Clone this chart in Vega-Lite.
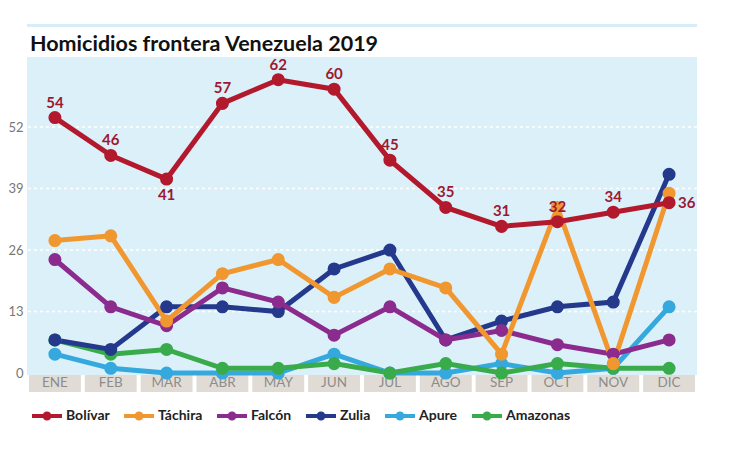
{
  "$schema": "https://vega.github.io/schema/vega-lite/v6.json",
  "width": 670,
  "height": 335,
  "autosize": {"type": "none"},
  "padding": {"left": 27, "top": 57, "right": 53, "bottom": 65},
  "background": "white",
  "config": {"view": {"stroke": null}, "font": "Lato"},
  "title": {"text": "Homicidios frontera Venezuela 2019", "anchor": "start", "frame": "group", "fontSize": 21.5, "fontWeight": "bold", "color": "#111111", "font": "Lato", "offset": -31, "dx": 3},
  "datasets": {
    "series": [
      {"month": "ENE", "region": "Apure", "value": 4},
      {"month": "FEB", "region": "Apure", "value": 1},
      {"month": "MAR", "region": "Apure", "value": 0},
      {"month": "ABR", "region": "Apure", "value": 0},
      {"month": "MAY", "region": "Apure", "value": 0},
      {"month": "JUN", "region": "Apure", "value": 4},
      {"month": "JUL", "region": "Apure", "value": 0},
      {"month": "AGO", "region": "Apure", "value": 0},
      {"month": "SEP", "region": "Apure", "value": 2},
      {"month": "OCT", "region": "Apure", "value": 0},
      {"month": "NOV", "region": "Apure", "value": 1},
      {"month": "DIC", "region": "Apure", "value": 14},
      {"month": "ENE", "region": "Amazonas", "value": 7},
      {"month": "FEB", "region": "Amazonas", "value": 4},
      {"month": "MAR", "region": "Amazonas", "value": 5},
      {"month": "ABR", "region": "Amazonas", "value": 1},
      {"month": "MAY", "region": "Amazonas", "value": 1},
      {"month": "JUN", "region": "Amazonas", "value": 2},
      {"month": "JUL", "region": "Amazonas", "value": 0},
      {"month": "AGO", "region": "Amazonas", "value": 2},
      {"month": "SEP", "region": "Amazonas", "value": 0},
      {"month": "OCT", "region": "Amazonas", "value": 2},
      {"month": "NOV", "region": "Amazonas", "value": 1},
      {"month": "DIC", "region": "Amazonas", "value": 1},
      {"month": "ENE", "region": "Zulia", "value": 7},
      {"month": "FEB", "region": "Zulia", "value": 5},
      {"month": "MAR", "region": "Zulia", "value": 14},
      {"month": "ABR", "region": "Zulia", "value": 14},
      {"month": "MAY", "region": "Zulia", "value": 13},
      {"month": "JUN", "region": "Zulia", "value": 22},
      {"month": "JUL", "region": "Zulia", "value": 26},
      {"month": "AGO", "region": "Zulia", "value": 7},
      {"month": "SEP", "region": "Zulia", "value": 11},
      {"month": "OCT", "region": "Zulia", "value": 14},
      {"month": "NOV", "region": "Zulia", "value": 15},
      {"month": "DIC", "region": "Zulia", "value": 42},
      {"month": "ENE", "region": "Falcón", "value": 24},
      {"month": "FEB", "region": "Falcón", "value": 14},
      {"month": "MAR", "region": "Falcón", "value": 10},
      {"month": "ABR", "region": "Falcón", "value": 18},
      {"month": "MAY", "region": "Falcón", "value": 15},
      {"month": "JUN", "region": "Falcón", "value": 8},
      {"month": "JUL", "region": "Falcón", "value": 14},
      {"month": "AGO", "region": "Falcón", "value": 7},
      {"month": "SEP", "region": "Falcón", "value": 9},
      {"month": "OCT", "region": "Falcón", "value": 6},
      {"month": "NOV", "region": "Falcón", "value": 4},
      {"month": "DIC", "region": "Falcón", "value": 7},
      {"month": "ENE", "region": "Táchira", "value": 28},
      {"month": "FEB", "region": "Táchira", "value": 29},
      {"month": "MAR", "region": "Táchira", "value": 11},
      {"month": "ABR", "region": "Táchira", "value": 21},
      {"month": "MAY", "region": "Táchira", "value": 24},
      {"month": "JUN", "region": "Táchira", "value": 16},
      {"month": "JUL", "region": "Táchira", "value": 22},
      {"month": "AGO", "region": "Táchira", "value": 18},
      {"month": "SEP", "region": "Táchira", "value": 4},
      {"month": "OCT", "region": "Táchira", "value": 35},
      {"month": "NOV", "region": "Táchira", "value": 2},
      {"month": "DIC", "region": "Táchira", "value": 38},
      {"month": "ENE", "region": "Bolívar", "value": 54},
      {"month": "FEB", "region": "Bolívar", "value": 46},
      {"month": "MAR", "region": "Bolívar", "value": 41},
      {"month": "ABR", "region": "Bolívar", "value": 57},
      {"month": "MAY", "region": "Bolívar", "value": 62},
      {"month": "JUN", "region": "Bolívar", "value": 60},
      {"month": "JUL", "region": "Bolívar", "value": 45},
      {"month": "AGO", "region": "Bolívar", "value": 35},
      {"month": "SEP", "region": "Bolívar", "value": 31},
      {"month": "OCT", "region": "Bolívar", "value": 32},
      {"month": "NOV", "region": "Bolívar", "value": 34},
      {"month": "DIC", "region": "Bolívar", "value": 36}
    ],
    "months": [
      {"month": "ENE"}, {"month": "FEB"}, {"month": "MAR"}, {"month": "ABR"},
      {"month": "MAY"}, {"month": "JUN"}, {"month": "JUL"}, {"month": "AGO"},
      {"month": "SEP"}, {"month": "OCT"}, {"month": "NOV"}, {"month": "DIC"}
    ],
    "grid": [{"v": 13}, {"v": 26}, {"v": 39}, {"v": 52}]
  },
  "layer": [
    {
      "data": {"values": [{"top": 73.45}]},
      "mark": {"type": "rule", "color": "#d8edf8", "strokeWidth": 3},
      "encoding": {
        "y": {"field": "top", "type": "quantitative", "scale": {"domain": [-4, 66.8], "nice": false, "zero": false}, "axis": {"title": null, "values": [0, 13, 26, 39, 52], "grid": false, "domain": false, "ticks": false, "labelPadding": 4, "labelFontSize": 13, "labelColor": "#777777", "labelFont": "Lato"}}
      }
    },
    {
      "data": {"values": [{"lo": -0.4, "hi": 66.8}]},
      "mark": {"type": "rect", "color": "#dcf0fa"},
      "encoding": {
        "y": {"field": "lo", "type": "quantitative", "scale": {"domain": [-4, 66.8], "nice": false, "zero": false}, "axis": {"title": null, "values": [0, 13, 26, 39, 52], "grid": false, "domain": false, "ticks": false, "labelPadding": 4, "labelFontSize": 13, "labelColor": "#777777", "labelFont": "Lato"}},
        "y2": {"field": "hi"}
      }
    },
    {
      "data": {"name": "grid"},
      "mark": {"type": "rule", "color": "white", "strokeWidth": 1.5, "strokeDash": [3, 3]},
      "encoding": {
        "y": {"field": "v", "type": "quantitative", "scale": {"domain": [-4, 66.8], "nice": false, "zero": false}, "axis": {"title": null, "values": [0, 13, 26, 39, 52], "grid": false, "domain": false, "ticks": false, "labelPadding": 4, "labelFontSize": 13, "labelColor": "#777777", "labelFont": "Lato"}}
      }
    },
    {
      "data": {"name": "months"},
      "mark": {"type": "rect", "color": "#e0dcd5"},
      "encoding": {
        "x": {"field": "month", "type": "nominal", "sort": null, "scale": {"domain": ["ENE","FEB","MAR","ABR","MAY","JUN","JUL","AGO","SEP","OCT","NOV","DIC"], "paddingInner": 0.07, "paddingOuter": 0.035}, "axis": null},
        "y": {"datum": -4, "type": "quantitative", "scale": {"domain": [-4, 66.8], "nice": false, "zero": false}, "axis": {"title": null, "values": [0, 13, 26, 39, 52], "grid": false, "domain": false, "ticks": false, "labelPadding": 4, "labelFontSize": 13, "labelColor": "#777777", "labelFont": "Lato"}},
        "y2": {"datum": -0.4}
      }
    },
    {
      "data": {"name": "months"},
      "mark": {"type": "text", "color": "#8c8c8c", "fontSize": 13.5, "font": "Lato", "baseline": "middle"},
      "encoding": {
        "x": {"field": "month", "type": "nominal", "sort": null, "scale": {"domain": ["ENE","FEB","MAR","ABR","MAY","JUN","JUL","AGO","SEP","OCT","NOV","DIC"], "paddingInner": 0.07, "paddingOuter": 0.035}, "axis": null},
        "y": {"datum": -2.1, "type": "quantitative", "scale": {"domain": [-4, 66.8], "nice": false, "zero": false}, "axis": {"title": null, "values": [0, 13, 26, 39, 52], "grid": false, "domain": false, "ticks": false, "labelPadding": 4, "labelFontSize": 13, "labelColor": "#777777", "labelFont": "Lato"}},
        "text": {"field": "month"}
      }
    },
    {
      "data": {"name": "series"},
      "mark": {"type": "line", "strokeWidth": 5, "point": {"size": 170, "filled": true, "opacity": 1}},
      "encoding": {
        "x": {"field": "month", "type": "nominal", "sort": null, "scale": {"domain": ["ENE","FEB","MAR","ABR","MAY","JUN","JUL","AGO","SEP","OCT","NOV","DIC"], "paddingInner": 0.07, "paddingOuter": 0.035}, "axis": null},
        "y": {"field": "value", "type": "quantitative", "scale": {"domain": [-4, 66.8], "nice": false, "zero": false}, "axis": {"title": null, "values": [0, 13, 26, 39, 52], "grid": false, "domain": false, "ticks": false, "labelPadding": 4, "labelFontSize": 13, "labelColor": "#777777", "labelFont": "Lato"}},
        "color": {
          "field": "region", "type": "nominal",
          "scale": {"domain": ["Bolívar", "Táchira", "Falcón", "Zulia", "Apure", "Amazonas"], "range": ["#b3192d", "#f0972f", "#8b2b8d", "#24398c", "#35a9dd", "#3aab4b"]},
          "legend": {
            "title": null, "orient": "none", "direction": "horizontal", "legendX": 5, "legendY": 344,
            "symbolType": "M-1,-0.14 L1,-0.14 L1,0.14 L-1,0.14 Z M0.3,0 A0.3,0.3 0 1,1 -0.3,0 A0.3,0.3 0 1,1 0.3,0 Z",
            "symbolSize": 900, "symbolStrokeWidth": 0, "labelFont": "Lato", "labelFontSize": 14, "labelFontWeight": "bold", "labelColor": "#222222", "labelOffset": 4, "columnPadding": 14,
            "encode": {"symbols": {"update": {"fill": {"scale": "color", "field": "value"}, "stroke": {"value": "transparent"}, "opacity": {"value": 1}}}}
          }
        }
      }
    },
    {
      "data": {"name": "series"},
      "transform": [{"filter": "datum.region === 'Bolívar' && datum.month !== 'MAR' && datum.month !== 'DIC'"}],
      "mark": {"type": "text", "color": "#9c1a30", "fontSize": 15, "fontWeight": "bold", "font": "Lato", "dy": -15},
      "encoding": {
        "x": {"field": "month", "type": "nominal", "sort": null, "scale": {"domain": ["ENE","FEB","MAR","ABR","MAY","JUN","JUL","AGO","SEP","OCT","NOV","DIC"], "paddingInner": 0.07, "paddingOuter": 0.035}, "axis": null},
        "y": {"field": "value", "type": "quantitative", "scale": {"domain": [-4, 66.8], "nice": false, "zero": false}, "axis": {"title": null, "values": [0, 13, 26, 39, 52], "grid": false, "domain": false, "ticks": false, "labelPadding": 4, "labelFontSize": 13, "labelColor": "#777777", "labelFont": "Lato"}},
        "text": {"field": "value"}
      }
    },
    {
      "data": {"name": "series"},
      "transform": [{"filter": "datum.region === 'Bolívar' && datum.month === 'MAR'"}],
      "mark": {"type": "text", "color": "#9c1a30", "fontSize": 15, "fontWeight": "bold", "font": "Lato", "dy": 16},
      "encoding": {
        "x": {"field": "month", "type": "nominal", "sort": null, "scale": {"domain": ["ENE","FEB","MAR","ABR","MAY","JUN","JUL","AGO","SEP","OCT","NOV","DIC"], "paddingInner": 0.07, "paddingOuter": 0.035}, "axis": null},
        "y": {"field": "value", "type": "quantitative", "scale": {"domain": [-4, 66.8], "nice": false, "zero": false}, "axis": {"title": null, "values": [0, 13, 26, 39, 52], "grid": false, "domain": false, "ticks": false, "labelPadding": 4, "labelFontSize": 13, "labelColor": "#777777", "labelFont": "Lato"}},
        "text": {"field": "value"}
      }
    },
    {
      "data": {"name": "series"},
      "transform": [{"filter": "datum.region === 'Bolívar' && datum.month === 'DIC'"}],
      "mark": {"type": "text", "color": "#9c1a30", "fontSize": 15, "fontWeight": "bold", "font": "Lato", "align": "left", "baseline": "middle", "dx": 9},
      "encoding": {
        "x": {"field": "month", "type": "nominal", "sort": null, "scale": {"domain": ["ENE","FEB","MAR","ABR","MAY","JUN","JUL","AGO","SEP","OCT","NOV","DIC"], "paddingInner": 0.07, "paddingOuter": 0.035}, "axis": null},
        "y": {"field": "value", "type": "quantitative", "scale": {"domain": [-4, 66.8], "nice": false, "zero": false}, "axis": {"title": null, "values": [0, 13, 26, 39, 52], "grid": false, "domain": false, "ticks": false, "labelPadding": 4, "labelFontSize": 13, "labelColor": "#777777", "labelFont": "Lato"}},
        "text": {"field": "value"}
      }
    }
  ]
}
